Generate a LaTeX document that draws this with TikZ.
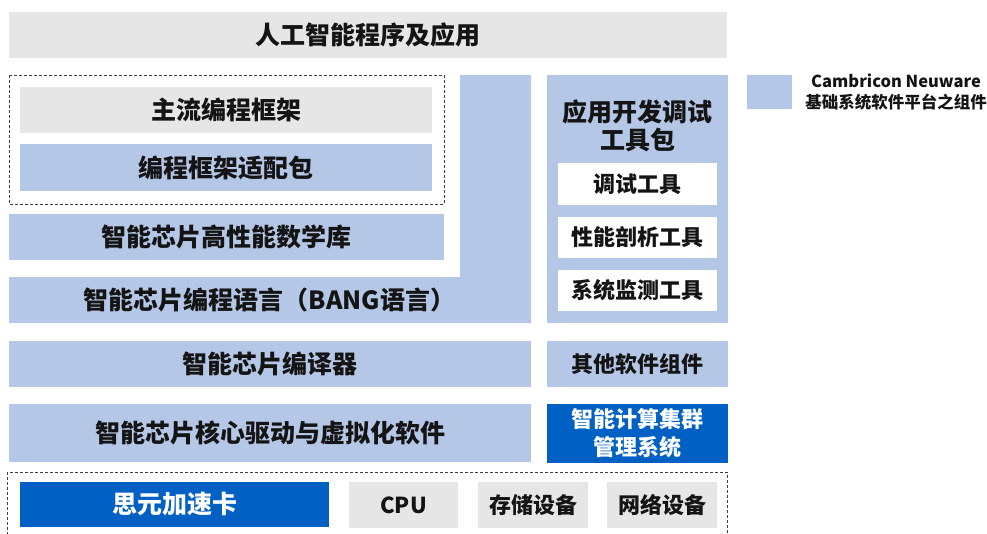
\documentclass[tikz,border=0pt]{standalone}
\usepackage{fontspec}
\setmainfont{Noto Sans CJK SC}
\usetikzlibrary{calc}
\definecolor{lblue}{RGB}{180,199,231}
\definecolor{lgray}{RGB}{230,230,230}
\definecolor{dblue}{RGB}{0,96,196}
\definecolor{txt}{RGB}{20,20,20}
\tikzset{
  box/.style={inner sep=0pt, anchor=center, text=txt, font=\bfseries\fontsize{25}{30}\selectfont},
  graybox/.style={box, fill=lgray},
  bluebox/.style={box, fill=lblue},
  darkbox/.style={box, fill=dblue, text=white},
  whitebox/.style={box, fill=white},
  small/.style={font=\bfseries\fontsize{22}{28}\selectfont},
  frame/.style={draw=black!75, line width=0.8pt, dash pattern=on 3pt off 2pt},
}
\begin{document}
\begin{tikzpicture}[x=1pt,y=-1pt]
\useasboundingbox (0,0) rectangle (987,533);
% top
\node[graybox, minimum width=718pt, minimum height=46pt] (app) at (368,35) {人工智能程序及应用};
% dashed frame
\draw[frame] (9,75) rectangle (444,204);
\node[graybox, minimum width=412pt, minimum height=46pt] (fw) at (226,110) {主流编程框架};
\node[bluebox, minimum width=412pt, minimum height=47pt] (adapt) at (226,167.5) {编程框架适配包};
\node[bluebox, minimum width=435pt, minimum height=46pt] (math) at (226.5,237) {智能芯片高性能数学库};
% L-shape
\fill[lblue] (9,277) -- (460,277) -- (460,75) -- (531,75) -- (531,323) -- (9,323) -- cycle;
\node[box] (bang) at (269.5,300) {智能芯片编程语言（BANG语言）};
\node[bluebox, minimum width=522pt, minimum height=46pt] (comp) at (270,364) {智能芯片编译器};
\node[bluebox, minimum width=522pt, minimum height=58pt] (drv) at (270,433) {智能芯片核心驱动与虚拟化软件};
% right column
\node[bluebox, minimum width=181pt, minimum height=248pt] (kit) at (637.5,199) {};
\node[box, align=center, font=\bfseries\fontsize{25}{28}\selectfont] (kittitle) at (637.5,126) {应用开发调试\\工具包};
\node[whitebox, small, minimum width=159pt, minimum height=42pt] (dbg) at (637.5,184) {调试工具};
\node[whitebox, small, minimum width=159pt, minimum height=41pt] (prof) at (637.5,237.5) {性能剖析工具};
\node[whitebox, small, minimum width=159pt, minimum height=41pt] (mon) at (637.5,290.5) {系统监测工具};
\node[bluebox, small, minimum width=181pt, minimum height=46pt] (other) at (637.5,364) {其他软件组件};
\node[darkbox, small, align=center, minimum width=181pt, minimum height=59pt] (clu) at (637.5,433.5) {智能计算集群\\管理系统};
% bottom hardware
\draw[frame] (7,472) rectangle (727,545);
\node[darkbox, minimum width=309pt, minimum height=45pt] (card) at (174.5,504.5) {思元加速卡};
\node[graybox, small, minimum width=109pt, minimum height=46pt] (cpu) at (403.5,505) {CPU};
\node[graybox, small, minimum width=110pt, minimum height=46pt] (sto) at (533,505) {存储设备};
\node[graybox, small, minimum width=110pt, minimum height=46pt] (net) at (662,505) {网络设备};
% legend
\node[fill=lblue, inner sep=0pt, minimum width=45pt, minimum height=34pt] (leg) at (769.5,92) {};
\node[box, align=center, font=\bfseries\fontsize{16.5}{21}\selectfont] (legtxt) at (896,92.5) {Cambricon Neuware\\基础系统软件平台之组件};
\end{tikzpicture}
\end{document}
